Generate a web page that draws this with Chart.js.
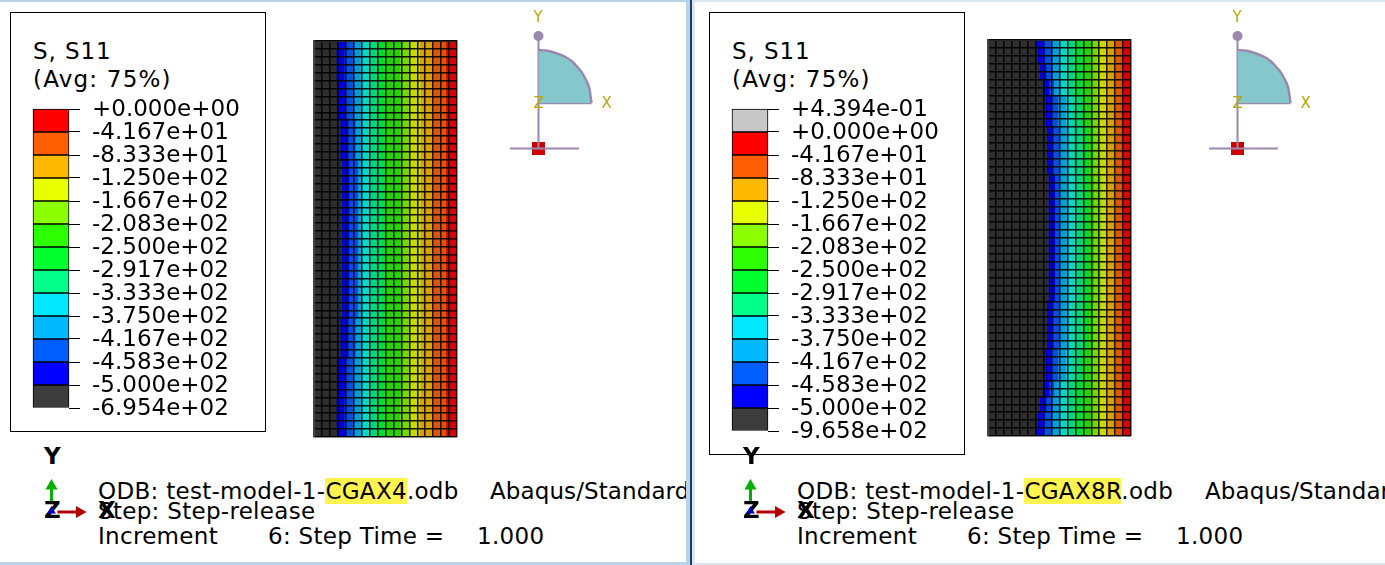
<!DOCTYPE html>
<html>
<head>
<meta charset="utf-8">
<script src="https://cdn.jsdelivr.net/npm/chart.js@4"></script>
<style>
  html, body { margin: 0; padding: 0; background: #fff; }
  #page { position: relative; width: 1385px; height: 565px; overflow: hidden; font-family: "DejaVu Sans", sans-serif; color: #000; }
  .panel { position: absolute; top: 0; height: 565px; overflow: hidden; background: #fff; }
  .abs { position: absolute; white-space: pre; }
  canvas { position: absolute; }
  .txt { font-size: 23px; line-height: 26px; letter-spacing: 0.3px; }
  .tight { font-size: 23px; line-height: 26px; letter-spacing: 0.1px; }
  .head { font-size: 23px; line-height: 26px; letter-spacing: 0.9px; }
  .avg { font-size: 23px; line-height: 26px; letter-spacing: 1.2px; }
  .gold { font-size: 15px; line-height: 16px; color: #b8a800; }
  .bold { font-size: 23px; line-height: 24px; font-weight: bold; }
  mark { background: #fff44f; color: #000; }
</style>
</head>
<body>
<div id="page"></div>
<script>
// Contour legend tick labels, top to bottom
const leftLegendLabels = ["+0.000e+00", "-4.167e+01", "-8.333e+01", "-1.250e+02", "-1.667e+02", "-2.083e+02", "-2.500e+02", "-2.917e+02", "-3.333e+02", "-3.750e+02", "-4.167e+02", "-4.583e+02", "-5.000e+02", "-6.954e+02"]
const rightLegendLabels = ["+4.394e-01", "+0.000e+00", "-4.167e+01", "-8.333e+01", "-1.250e+02", "-1.667e+02", "-2.083e+02", "-2.500e+02", "-2.917e+02", "-3.333e+02", "-3.750e+02", "-4.167e+02", "-4.583e+02", "-5.000e+02", "-9.658e+02"]

// Legend band colours, bottom to top
const legendColors = ["#3c3c3c", "#0000ff", "#005dff", "#00b9ff", "#00e8ff", "#00ff8b", "#00ff2e", "#2eff00", "#8bff00", "#e8ff00", "#ffb900", "#ff5e00", "#ff0000", "#c8c8c8"]
// Same bands as they look on the lit mesh, left to right
const meshColors = ["#2e2e2e", "#0000dc", "#0052dc", "#00a0d8", "#00d8c8", "#00d880", "#00dc30", "#28d400", "#78d800", "#c8d800", "#d8a000", "#dc5500", "#dc0000"]

const meshColumns = 18

// Band edges across the mesh (in element columns), one list per distinct row look
const leftProfiles = [
  [3.0, 4.0, 5.0, 6.0, 7.0, 8.0, 9.0, 11.0, 12.0, 13.3, 15.0, 16.6],
  [2.8, 3.8, 5.0, 5.9, 7.0, 8.0, 9.0, 10.8, 12.0, 13.3, 15.0, 16.6],
  [3.0, 4.0, 5.0, 6.0, 7.0, 8.2, 9.0, 11.0, 12.0, 13.4, 15.0, 16.6],
  [3.3, 4.3, 5.2, 6.0, 7.0, 8.3, 9.0, 11.0, 12.0, 13.4, 15.0, 16.6],
  [3.5, 4.4, 5.5, 6.0, 7.1, 8.5, 9.0, 11.0, 12.0, 13.4, 15.0, 16.6],
]
const leftRowProfile = [0, 1, 1, 1, 1, 2, 2, 2, 2, 2, 3, 3, 3, 3, 3, 4, 4, 4, 4, 4, 4, 4, 4, 4, 4, 4, 4, 4, 4, 4, 4, 4, 4, 4, 4, 3, 3, 3, 3, 3, 2, 2, 2, 2, 2, 1, 1, 1, 1, 0]

const rightProfiles = [
  [6.0, 7.0, 8.0, 9.0, 10.0, 11.0, 12.0, 13.0, 14.0, 15.0, 16.0, 17.0],
  [6.2, 7.1, 8.0, 9.0, 10.0, 11.0, 12.0, 13.0, 14.0, 15.0, 16.0, 17.0],
  [6.5, 7.3, 8.1, 9.0, 10.0, 11.0, 12.0, 13.0, 14.0, 15.0, 16.0, 17.0],
  [6.9, 7.7, 8.3, 9.1, 10.0, 11.0, 12.0, 13.0, 14.0, 15.0, 16.0, 17.0],
  [7.2, 8.0, 8.8, 9.8, 10.6, 11.6, 12.3, 13.1, 14.0, 15.0, 16.0, 17.0],
  [7.4, 8.2, 8.9, 9.9, 10.8, 11.9, 12.5, 13.2, 14.1, 15.0, 16.0, 17.0],
  [7.6, 8.4, 9.0, 10.0, 10.9, 12.0, 12.6, 13.3, 14.2, 15.0, 16.0, 17.0],
]
const rightRowProfile = [0, 1, 1, 2, 2, 3, 3, 4, 4, 4, 4, 5, 5, 5, 5, 5, 5, 6, 6, 6, 6, 6, 6, 6, 6, 6, 6, 6, 6, 6, 6, 6, 6, 5, 5, 5, 5, 5, 5, 4, 4, 4, 4, 3, 3, 2, 2, 1, 1, 0]

// Quarter section outline and its reference lines, model units
const arcX = [0, 7, 14, 20, 27, 33, 38, 43, 46, 49, 51, 52, 53]
const arcY = [53, 52.5, 51, 49, 46, 42, 37, 31, 26, 20, 14, 7, 0]
const axisLineX = [0, 0]
const axisLineY = [67, -45.5]
const groundLineX = [-28.5, 40.5]
const groundLineY = [-45.5, -45.5]

const page = document.getElementById("page")

function addDiv(parent, className, left, top, html) {
  const el = document.createElement("div")
  el.className = "abs " + className
  el.style.left = left + "px"
  el.style.top = top + "px"
  el.innerHTML = html
  parent.appendChild(el)
  return el
}

function addCanvas(parent, left, top, width, height) {
  const canvas = document.createElement("canvas")
  canvas.style.left = left + "px"
  canvas.style.top = top + "px"
  canvas.style.width = width + "px"
  canvas.style.height = height + "px"
  canvas.width = width
  canvas.height = height
  parent.appendChild(canvas)
  return canvas.getContext("2d")
}

// Stacked single column colour key, ticks on the band edges
function drawLegend(parent, left, top, labels) {
  const bands = labels.length - 1
  const datasets = []
  for (let i = 0; i < bands; i++) {
    datasets.push({
      data: [1],
      backgroundColor: legendColors[i],
      borderColor: "#000",
      borderWidth: 1,
      borderSkipped: false,
      barPercentage: 1,
      categoryPercentage: 1,
      clip: false,
    })
  }
  const ctx = addCanvas(parent, left - 2, top - 20, 225, bands * 23 + 40)
  new Chart(ctx, {
    type: "bar",
    data: { labels: ["S11"], datasets: datasets },
    options: {
      responsive: false,
      animation: false,
      layout: { autoPadding: false, padding: { top: 20, bottom: 20, left: 2, right: 0 } },
      plugins: { legend: { display: false }, tooltip: { enabled: false } },
      scales: {
        x: { stacked: true, display: false },
        y: {
          stacked: true,
          position: "right",
          min: 0,
          max: bands,
          afterFit: (scale) => {
            scale.width = 187
            scale.paddingTop = 0
            scale.paddingBottom = 0
          },
          border: { display: false },
          grid: { drawOnChartArea: false, color: "#000", tickLength: 11, tickColor: "#000" },
          ticks: {
            stepSize: 1,
            autoSkip: false,
            padding: 12,
            labelOffset: 1,
            color: "#000",
            font: { family: "DejaVu Sans", size: 23 },
            callback: (value) => labels[bands - value],
          },
        },
      },
    },
  })
}

// Element mesh: one horizontal stacked bar per row, one dataset per contour band
function drawMesh(parent, left, top, profiles, rowProfile) {
  const rowLabels = rowProfile.map((p, i) => "row " + (i + 1))
  const datasets = meshColors.map((color, band) => ({
    data: rowProfile.map((p) => {
      const edges = profiles[p]
      const start = band === 0 ? 0 : edges[band - 1]
      const end = band === edges.length ? meshColumns : edges[band]
      return end - start
    }),
    backgroundColor: color,
    barPercentage: 1,
    categoryPercentage: 1,
  }))
  const ctx = addCanvas(parent, left - 2, top - 2, 147, 400)
  new Chart(ctx, {
    type: "bar",
    data: { labels: rowLabels, datasets: datasets },
    options: {
      indexAxis: "y",
      responsive: false,
      animation: false,
      layout: { autoPadding: false, padding: { right: 2, bottom: 2 } },
      plugins: { legend: { display: false }, tooltip: { enabled: false } },
      scales: {
        x: {
          stacked: true,
          position: "top",
          min: 0,
          max: meshColumns,
          afterFit: (scale) => { scale.height = 2 },
          border: { color: "#444", width: 2, z: 1 },
          grid: { color: "rgba(0,0,0,0.9)", lineWidth: 1.5, z: 1, drawTicks: false },
          ticks: { display: false, stepSize: 1, autoSkip: false, maxTicksLimit: 30 },
        },
        y: {
          stacked: true,
          afterFit: (scale) => { scale.width = 2 },
          border: { color: "#444", width: 2, z: 1 },
          grid: { color: "rgba(0,0,0,0.9)", lineWidth: 1.5, z: 1, drawTicks: false },
          ticks: { display: false, autoSkip: false },
        },
      },
    },
  })
}

function xyPoints(xs, ys) {
  return xs.map((x, i) => ({ x: x, y: ys[i] }))
}

// Section view in the corner: quarter disc, axis and red reference node
function drawSection(parent, originX, originY) {
  const ctx = addCanvas(parent, originX - 38.5, originY - 78, 110, 130)
  new Chart(ctx, {
    type: "scatter",
    data: {
      datasets: [
        {
          data: xyPoints(arcX, arcY),
          showLine: true,
          fill: "origin",
          backgroundColor: "#85c8cc",
          borderColor: "#9a88b0",
          borderWidth: 2.5,
          pointRadius: 0,
          tension: 0.3,
        },
        {
          data: xyPoints(axisLineX, axisLineY),
          showLine: true,
          borderColor: "#9a88b0",
          borderWidth: 2,
          pointRadius: [5, 0],
          pointBackgroundColor: "#9a88b0",
          pointBorderWidth: 0,
        },
        {
          data: xyPoints([0, 53], [0, 0]),
          showLine: true,
          borderColor: "#9a88b0",
          borderWidth: 2.5,
          pointRadius: 0,
        },
        {
          data: xyPoints(groundLineX, groundLineY),
          showLine: true,
          borderColor: "#9a88b0",
          borderWidth: 2,
          pointRadius: 0,
        },
        {
          data: [{ x: 0, y: -45.5 }],
          pointStyle: "rect",
          pointRadius: 9.2,
          pointBackgroundColor: "#cc0000",
          pointBorderWidth: 0,
        },
      ],
    },
    options: {
      responsive: false,
      animation: false,
      layout: { autoPadding: false, padding: 0 },
      plugins: { legend: { display: false }, tooltip: { enabled: false } },
      scales: {
        x: { display: false, min: -38.5, max: 71.5 },
        y: { display: false, min: -52, max: 78 },
      },
    },
  })
}

// Small axis triad at the bottom left of each viewport
function drawTriad(parent, originX, originY) {
  const ctx = addCanvas(parent, originX - 21.5, originY - 42, 70, 52)
  new Chart(ctx, {
    type: "scatter",
    data: {
      datasets: [
        {
          data: xyPoints([0, 0], [11, 26]),
          showLine: true,
          borderColor: "#00b000",
          borderWidth: 3,
          pointStyle: "triangle",
          pointRadius: [0, 7],
          pointBackgroundColor: "#00b000",
          pointBorderWidth: 0,
        },
        {
          data: xyPoints([6, 28], [0, 0]),
          showLine: true,
          borderColor: "#b00000",
          borderWidth: 3,
          pointStyle: "triangle",
          pointRotation: 90,
          pointRadius: [0, 7],
          pointBackgroundColor: "#b00000",
          pointBorderWidth: 0,
        },
        {
          data: [{ x: 0, y: 1 }],
          pointStyle: "triangle",
          pointRadius: 5,
          pointBackgroundColor: "#0000c0",
          pointBorderWidth: 0,
        },
      ],
    },
    options: {
      responsive: false,
      animation: false,
      layout: { autoPadding: false, padding: 0 },
      plugins: { legend: { display: false }, tooltip: { enabled: false } },
      scales: {
        x: { display: false, min: -21.5, max: 48.5 },
        y: { display: false, min: -10, max: 42 },
      },
    },
  })
}

function drawPanel(panel, opt) {
  // Legend frame and heading
  const frame = addDiv(panel, "", opt.boxLeft, 12, "")
  frame.style.width = "254px"
  frame.style.height = opt.boxHeight + "px"
  frame.style.border = "1px solid #000"
  frame.style.background = "#fff"
  addDiv(panel, "head", opt.boxLeft + 23, 38, "S, S11")
  addDiv(panel, "avg", opt.boxLeft + 23, 66, "(Avg: 75%)")

  drawLegend(panel, opt.boxLeft + 23, 109, opt.labels)
  drawMesh(panel, opt.meshLeft, opt.meshTop, opt.profiles, opt.rowProfile)
  drawSection(panel, opt.sectionX, 103)

  addDiv(panel, "gold", opt.sectionX - 5, 9, "Y")
  addDiv(panel, "gold", opt.sectionX + 63, 95, "X")
  addDiv(panel, "gold", opt.sectionX - 5, 95, "Z")

  addDiv(panel, "txt", opt.textLeft, 478, "ODB: test-model-1-<mark>" + opt.model + "</mark>.odb")
  addDiv(panel, "tight", opt.abaqusLeft, 478, "Abaqus/Standard")
  addDiv(panel, "txt", opt.textLeft, 498, "Step: Step-release")
  addDiv(panel, "txt", opt.textLeft, 523, "Increment")
  addDiv(panel, "txt", opt.textLeft + 170, 523, "6: Step Time =")
  addDiv(panel, "txt", opt.textLeft + 379, 523, "1.000")

  addDiv(panel, "bold", opt.textLeft - 54, 444, "Y")
  addDiv(panel, "bold", opt.textLeft - 54, 498, "Z")
  addDiv(panel, "bold", opt.textLeft, 498, "X")
  drawTriad(panel, opt.textLeft - 46.5, 512)
}

document.addEventListener("DOMContentLoaded", () => {
  const leftPanel = document.createElement("div")
  leftPanel.className = "panel"
  leftPanel.style.left = "0"
  leftPanel.style.width = "686px"
  page.appendChild(leftPanel)

  drawPanel(leftPanel, {
    boxLeft: 10,
    boxHeight: 418,
    labels: leftLegendLabels,
    meshLeft: 314,
    meshTop: 41,
    profiles: leftProfiles,
    rowProfile: leftRowProfile,
    sectionX: 538.5,
    textLeft: 98,
    abaqusLeft: 490,
    model: "CGAX4",
  })

  const rightPanel = document.createElement("div")
  rightPanel.className = "panel"
  rightPanel.style.left = "0"
  rightPanel.style.width = "1385px"
  rightPanel.style.clipPath = "inset(0 0 0 695px)"
  page.appendChild(rightPanel)

  drawPanel(rightPanel, {
    boxLeft: 709,
    boxHeight: 441,
    labels: rightLegendLabels,
    meshLeft: 988,
    meshTop: 40,
    profiles: rightProfiles,
    rowProfile: rightRowProfile,
    sectionX: 1237.5,
    textLeft: 797,
    abaqusLeft: 1205,
    model: "CGAX8R",
  })

  // Window frame strips around the two viewports
  const strips = [
    [0, 0, 686, 2, "#b9d1ea"],
    [695, 0, 690, 2, "#d9e6f4"],
    [0, 562, 686, 3, "#b9d1ea"],
    [695, 563, 690, 2, "#d9e6f4"],
    [686, 0, 4, 565, "#b9d1ea"],
    [690, 0, 2, 565, "#1f3f5f"],
    [692, 0, 3, 565, "#d9e6f4"],
  ]
  strips.forEach((s) => {
    const el = addDiv(page, "", s[0], s[1], "")
    el.style.width = s[2] + "px"
    el.style.height = s[3] + "px"
    el.style.background = s[4]
  })
})
</script>
</body>
</html>
